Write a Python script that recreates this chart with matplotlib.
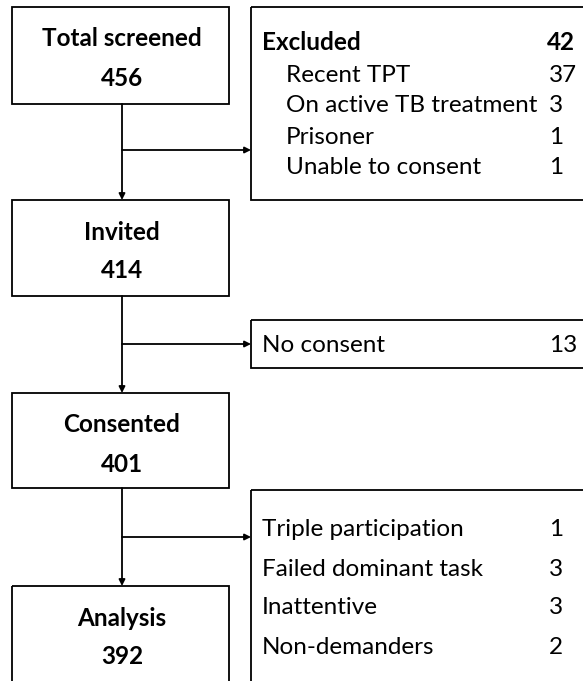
import matplotlib.pyplot as plt
from matplotlib.patches import Rectangle

# flow stages
stages = ['Total screened', 'Invited', 'Consented', 'Analysis']
stage_n = [456, 414, 401, 392]

# exclusions after screening
excl_title = 'Excluded'
excl_total = 42
excl_reasons = ['Recent TPT', 'On active TB treatment', 'Prisoner', 'Unable to consent']
excl_n = [37, 3, 1, 1]

# after invitation
nocons_label = 'No consent'
nocons_n = 13

# after consent
drop_reasons = ['Triple participation', 'Failed dominant task', 'Inattentive', 'Non-demanders']
drop_n = [1, 3, 3, 2]

plt.rcParams['font.family'] = ['Lato', 'DejaVu Sans']

W, H = 583, 681
fig = plt.figure(figsize=(W / 100, H / 100), dpi=100)
ax = fig.add_axes([0, 0, 1, 1])
ax.set_xlim(0, W)
ax.set_ylim(H, 0)
ax.axis('off')

lw = 1.3
big = 17.5
small = 17.5

def box(x0, y0, x1, y1):
    ax.add_patch(Rectangle((x0, y0), x1 - x0, y1 - y0, fill=False, edgecolor='black', lw=lw, clip_on=True))

def arrow(x0, y0, x1, y1):
    ax.annotate('', xy=(x1, y1), xytext=(x0, y0),
                arrowprops=dict(arrowstyle='-|>', color='black', lw=lw, mutation_scale=9,
                                shrinkA=0, shrinkB=0))

# main column boxes
cx = 122
tops = [7, 200, 393, 586]
bots = [104, 296, 488, 700]
for i in range(len(stages)):
    box(12, tops[i], 229, bots[i])
    ax.text(cx, tops[i] + 32, stages[i], ha='center', va='center', fontsize=big, fontweight='bold')
    ax.text(cx, tops[i] + 71, str(stage_n[i]), ha='center', va='center', fontsize=big, fontweight='bold')
    if i < len(stages) - 1:
        arrow(cx, bots[i], cx, tops[i + 1])

# side branches
branch_y = [150, 344, 537]
side_x = 251
for by in branch_y:
    arrow(cx, by, side_x, by)

num_x = 549

# excluded box
box(side_x, 7, 600, 200)
ax.text(262, 43, excl_title, ha='left', va='center', fontsize=small, fontweight='bold')
ax.text(575, 43, str(excl_total), ha='right', va='center', fontsize=small, fontweight='bold')
for k, (lab, n) in enumerate(zip(excl_reasons, excl_n)):
    y = 75 + 31 * k
    ax.text(286, y, lab, ha='left', va='center', fontsize=small)
    ax.text(num_x, y, str(n), ha='left', va='center', fontsize=small)

# no consent box
box(side_x, 320, 600, 368)
ax.text(262, 345, nocons_label, ha='left', va='center', fontsize=small)
ax.text(num_x, 345, str(nocons_n), ha='left', va='center', fontsize=small)

# dropped after consent
box(side_x, 490, 600, 700)
for k, (lab, n) in enumerate(zip(drop_reasons, drop_n)):
    y = 530 + 39 * k
    ax.text(262, y, lab, ha='left', va='center', fontsize=small)
    ax.text(num_x, y, str(n), ha='left', va='center', fontsize=small)

fig.savefig('out.png', dpi=100)
